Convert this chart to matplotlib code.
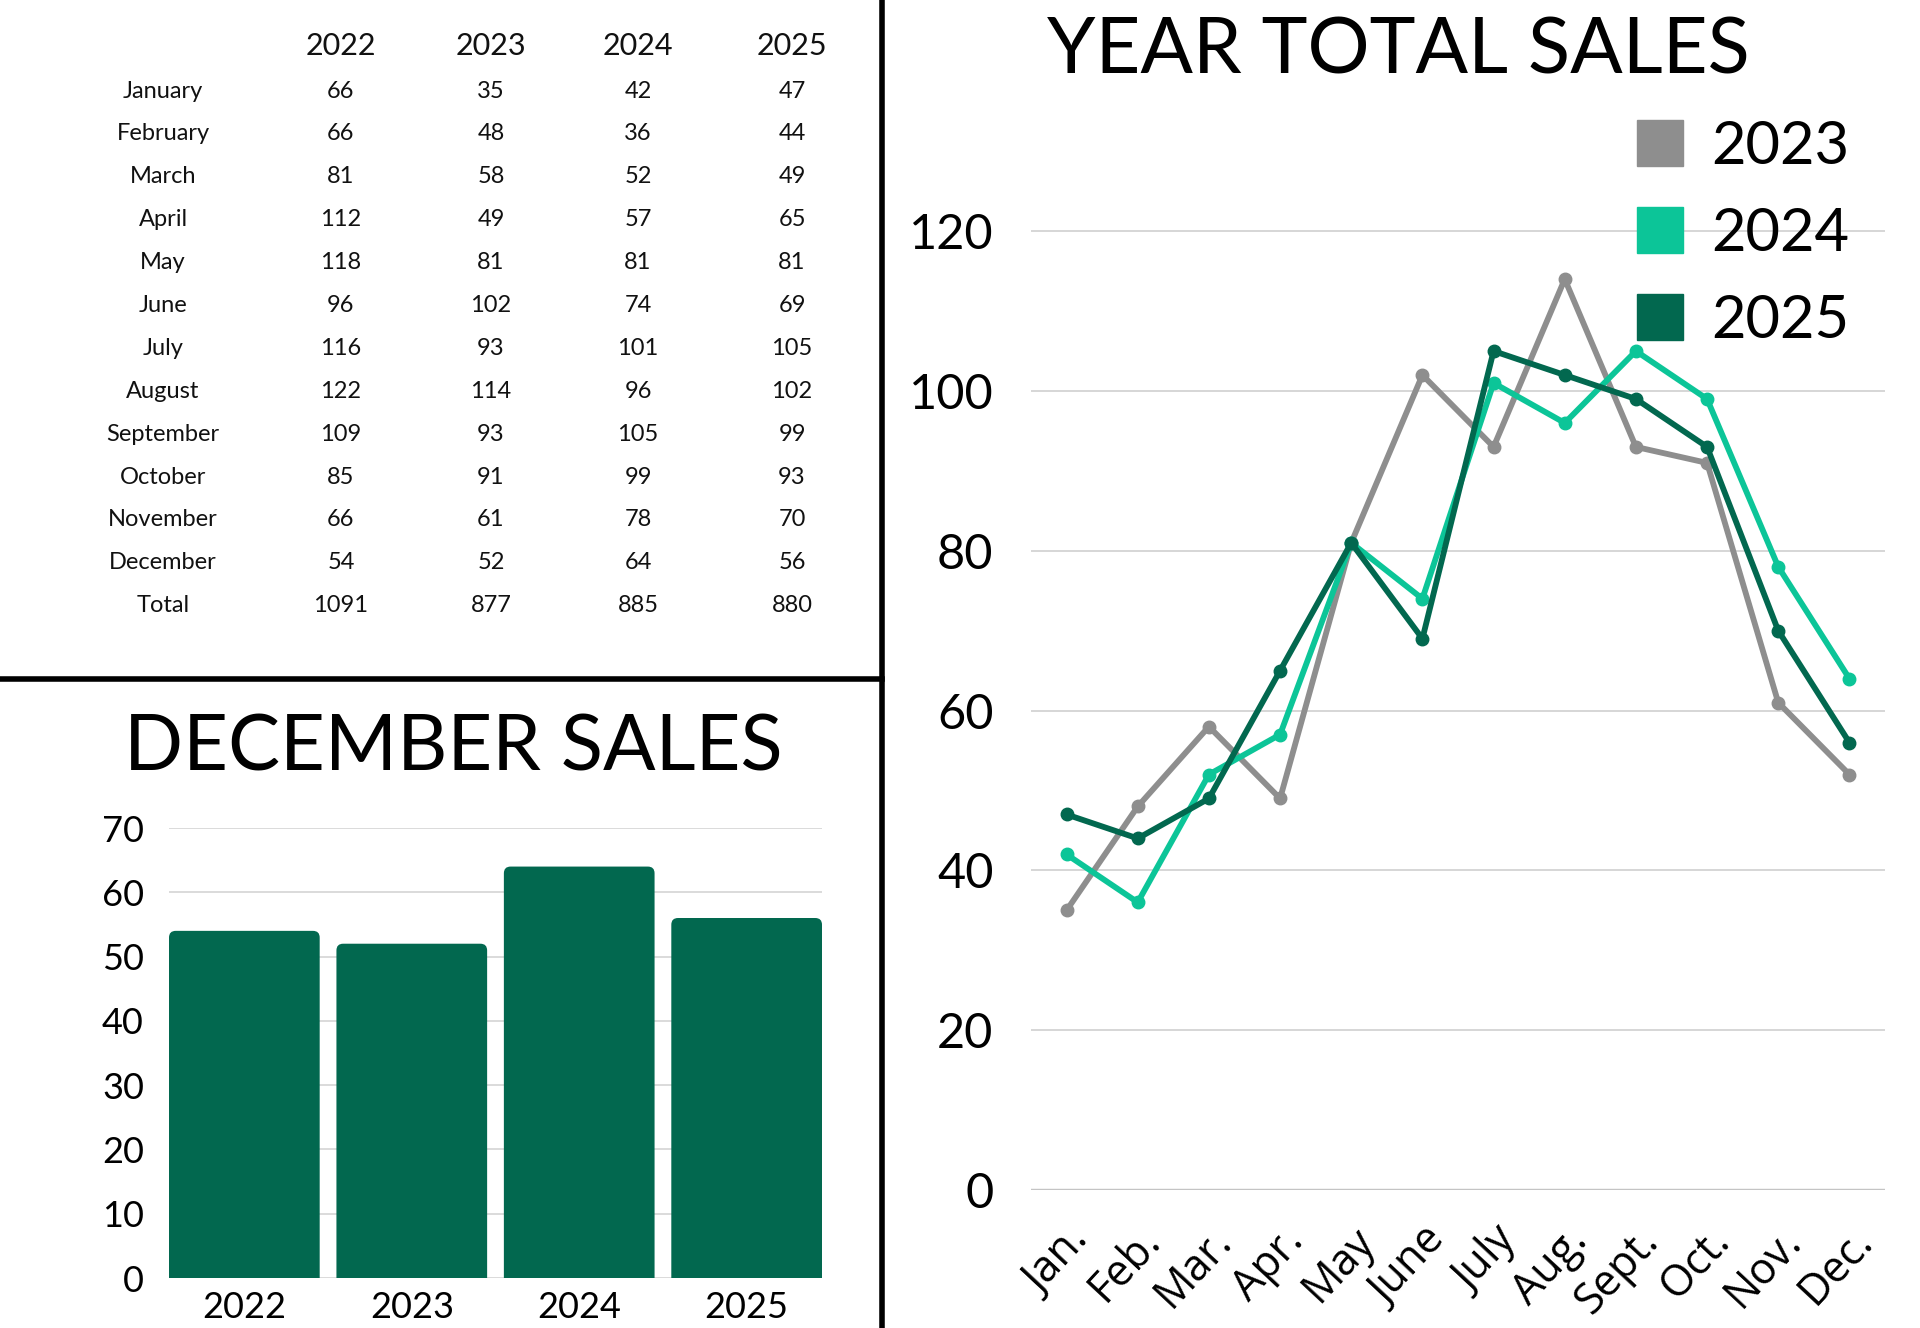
import matplotlib
matplotlib.use("Agg")
from matplotlib import pyplot as plt
from matplotlib.lines import Line2D
from matplotlib.patches import FancyBboxPatch

plt.rcParams['font.family'] = ['Lato', 'DejaVu Sans']

# sales data
years = ['2022', '2023', '2024', '2025']
months = ['January', 'February', 'March', 'April', 'May', 'June', 'July',
          'August', 'September', 'October', 'November', 'December']
month_short = ['Jan.', 'Feb.', 'Mar.', 'Apr.', 'May', 'June', 'July',
               'Aug.', 'Sept.', 'Oct.', 'Nov.', 'Dec.']
sales_2022 = [66, 66, 81, 112, 118, 96, 116, 122, 109, 85, 66, 54]
sales_2023 = [35, 48, 58, 49, 81, 102, 93, 114, 93, 91, 61, 52]
sales_2024 = [42, 36, 52, 57, 81, 74, 101, 96, 105, 99, 78, 64]
sales_2025 = [47, 44, 49, 65, 81, 69, 105, 102, 99, 93, 70, 56]
sales = [sales_2022, sales_2023, sales_2024, sales_2025]

GRAY = '#8e8e8e'
TEAL = '#0cc598'
DARK = '#02684f'
W, H = 1920, 1328

fig = plt.figure(figsize=(19.2, 13.28), dpi=100)

# ---- table (top left)
col_x = [341, 491, 638, 792]
for yr, cx in zip(years, col_x):
    fig.text(cx / W, 1 - 46 / H, yr, ha='center', va='center', fontsize=22, color='#111111')
rows = months + ['Total']
for i, name in enumerate(rows):
    y = 1 - (91 + i * 42.9) / H
    fig.text(163 / W, y, name, ha='center', va='center', fontsize=17, color='#111111')
    for k, cx in enumerate(col_x):
        v = sum(sales[k]) if name == 'Total' else sales[k][i]
        fig.text(cx / W, y, str(v), ha='center', va='center', fontsize=17, color='#111111')

# ---- december bars (bottom left)
ax1 = fig.add_axes([169 / W, 1 - 1278 / H, 653 / W, 450 / H])
dec = [s[-1] for s in sales]
bars = ax1.bar(range(4), dec, width=0.9, color=DARK, zorder=2)
ax1.set_xlim(-0.45, 3.45)
ax1.set_ylim(0, 70)
# round the top corners, bottom ones get clipped by the axes
asp = (450 / 70) ** -1 * (653 / 3.9)
for b in bars:
    b.set_visible(False)
    p = FancyBboxPatch((b.get_x(), -5), b.get_width(), b.get_height() + 5,
                       boxstyle='round,pad=0,rounding_size=0.04', mutation_aspect=asp,
                       facecolor=DARK, edgecolor='none', zorder=2)
    ax1.add_patch(p)
ax1.set_yticks(range(0, 71, 10))
ax1.set_xticks(range(4))
ax1.set_xticklabels(years)
ax1.tick_params(axis='y', length=0, labelsize=26, pad=18)
ax1.tick_params(axis='x', length=0, labelsize=26, pad=9)
ax1.grid(axis='y', color='#d4d4d4', linewidth=1.2, zorder=0)
for s in ax1.spines.values():
    s.set_visible(False)
fig.text(453 / W, 1 - 749 / H, 'DECEMBER SALES', ha='center', va='center', fontsize=56)

# ---- year lines (right)
ax2 = fig.add_axes([1031 / W, 1 - 1190 / H, 854 / W, 1080 / H])
x = list(range(12))
for data, col, yr in [(sales_2023, GRAY, '2023'), (sales_2024, TEAL, '2024'), (sales_2025, DARK, '2025')]:
    ax2.plot(x, data, color=col, linewidth=4.2, marker='o', markersize=9, label=yr, zorder=3)
ax2.set_xlim(-0.5, 11.5)
ax2.set_ylim(0, 1080 / 7.99)
ax2.set_yticks(range(0, 121, 20))
ax2.set_xticks(x)
ax2.set_xticklabels(month_short, rotation=47, ha='right', va='top', rotation_mode='anchor',
                    family=['Open Sans', 'DejaVu Sans'])
ax2.tick_params(axis='y', length=0, labelsize=35, pad=27)
ax2.tick_params(axis='x', length=0, labelsize=31, pad=21)
ax2.grid(axis='y', color='#d0d0d0', linewidth=1.2, zorder=0)
ax2.axhline(0, color='#8a8a8a', linewidth=1.6, zorder=1)
for s in ax2.spines.values():
    s.set_visible(False)
fig.text(1398 / W, 1 - 52 / H, 'YEAR TOTAL SALES', ha='center', va='center', fontsize=56)

handles = [Line2D([], [], marker='s', linestyle='none', markersize=33, color=c)
           for c in (GRAY, TEAL, DARK)]
ax2.legend(handles, ['2023', '2024', '2025'], loc='upper right',
           bbox_to_anchor=(1879 / W, 1 - 90 / H), bbox_transform=fig.transFigure,
           frameon=False, fontsize=43, labelspacing=0.55, handletextpad=0.35,
           handlelength=1.0, borderpad=0)

# ---- panel separators
fig.add_artist(Line2D([882 / W, 882 / W], [0, 1], color='black', linewidth=4))
fig.add_artist(Line2D([0, 882 / W], [1 - 679 / H, 1 - 679 / H], color='black', linewidth=4))

fig.savefig('out.png', dpi=100, facecolor='white')
